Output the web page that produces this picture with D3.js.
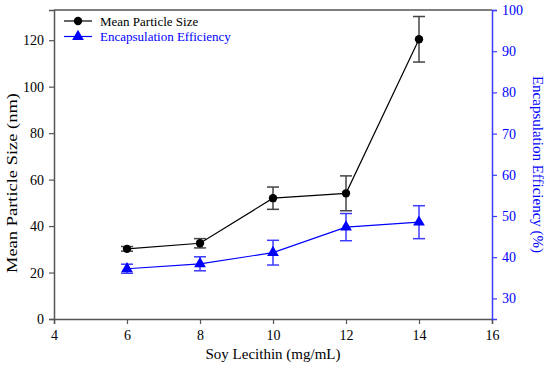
<!DOCTYPE html>
<html>
<head>
<meta charset="utf-8">
<script src="https://cdn.jsdelivr.net/npm/d3@7"></script>
<style>
  body { margin: 0; background: #fff; }
  svg, svg text { font-family: "Liberation Serif", "Times New Roman", serif; }
</style>
</head>
<body>
<svg id="chart" width="550" height="371"></svg>
<script>
var lecithin = [6, 8, 10, 12, 14];
var particleSize = [30.2, 32.6, 52.0, 54.1, 120.4];
var particleErr = [1.0, 2.0, 4.8, 7.5, 9.8];
var efficiency = [37.2, 38.4, 41.1, 47.3, 48.5];
var efficiencyErr = [1.1, 1.7, 3.0, 3.3, 4.0];
var xTicks = [4, 6, 8, 10, 12, 14, 16];
var leftTicks = [0, 20, 40, 60, 80, 100, 120];
var rightTicks = [30, 40, 50, 60, 70, 80, 90, 100];

var margin = {left: 54, right: 58, top: 10, bottom: 52};
var svg = d3.select('#chart');
var width = +svg.attr('width'), height = +svg.attr('height');
var x0 = margin.left, x1 = width - margin.right;
var y0 = height - margin.bottom, y1 = margin.top;

var x = d3.scaleLinear().domain([4, 16]).range([x0, x1]);
var yL = d3.scaleLinear().domain([0, 133]).range([y0, y1]);
var yR = d3.scaleLinear().domain([25, 100]).range([y0, y1]);

var blue = '#0000ff';
var axisBlue = '#3c3cff';

// top border
svg.append('line')
    .attr('x1', x0).attr('x2', x1).attr('y1', y1).attr('y2', y1)
    .attr('stroke', '#555').attr('stroke-width', 1.5);

function styleAxis(g, color, textColor) {
    g.attr('font-family', null).attr('font-size', null);
    g.selectAll('path').attr('stroke', color).attr('stroke-width', 1.5);
    g.selectAll('line').attr('stroke', color).attr('stroke-width', 1.2);
    g.selectAll('text')
        .attr('fill', textColor)
        .style('font-size', '14px');
}

var gx = svg.append('g')
    .attr('transform', `translate(0, ${y0})`)
    .call(d3.axisBottom(x).tickValues(xTicks).tickSize(5).tickPadding(6));
styleAxis(gx, '#555', '#000');

var gl = svg.append('g')
    .attr('transform', `translate(${x0}, 0)`)
    .call(d3.axisLeft(yL).tickValues(leftTicks).tickSize(5).tickPadding(5));
styleAxis(gl, '#555', '#000');

var gr = svg.append('g')
    .attr('transform', `translate(${x1}, 0)`)
    .call(d3.axisRight(yR).tickValues(rightTicks).tickSize(5).tickPadding(5));
styleAxis(gr, axisBlue, blue);

// axis titles
svg.append('text')
    .attr('x', (x0 + x1) / 2).attr('y', 359)
    .attr('text-anchor', 'middle')
    .style('font-size', '15px')
    .text('Soy Lecithin (mg/mL)');

svg.append('text')
    .attr('transform', 'translate(17, 183) rotate(-90)')
    .attr('text-anchor', 'middle')
    .attr('textLength', 180)
    .attr('lengthAdjust', 'spacingAndGlyphs')
    .style('font-size', '15px')
    .text('Mean Particle Size (nm)');

svg.append('text')
    .attr('transform', `translate(533, ${(y0 + y1) / 2}) rotate(90)`)
    .attr('text-anchor', 'middle')
    .attr('fill', blue)
    .style('font-size', '15px')
    .text('Encapsulation Efficiency (%)');

function drawSeries(vals, errs, yScale, lineColor, errColor, marker) {
    var data = lecithin.map((d, i) => ({x: d, y: vals[i], e: errs[i]}));
    var g = svg.append('g');
    var cap = 6;
    var eb = g.selectAll('.err').data(data).enter().append('g');
    eb.append('line')
        .attr('x1', d => x(d.x)).attr('x2', d => x(d.x))
        .attr('y1', d => yScale(d.y - d.e)).attr('y2', d => yScale(d.y + d.e))
        .attr('stroke', errColor).attr('stroke-width', 1.5);
    [-1, 1].forEach(s => {
        eb.append('line')
            .attr('x1', d => x(d.x) - cap).attr('x2', d => x(d.x) + cap)
            .attr('y1', d => yScale(d.y + s * d.e)).attr('y2', d => yScale(d.y + s * d.e))
            .attr('stroke', errColor).attr('stroke-width', 1.5);
    });
    g.append('path')
        .datum(data)
        .attr('fill', 'none')
        .attr('stroke', lineColor)
        .attr('stroke-width', 1.2)
        .attr('d', d3.line().x(d => x(d.x)).y(d => yScale(d.y)));
    g.selectAll('.mk').data(data).enter().append('path')
        .attr('transform', d => `translate(${x(d.x)}, ${yScale(d.y)})`)
        .attr('fill', lineColor)
        .attr('d', d3.symbol().type(marker).size(marker === d3.symbolCircle ? 55 : 60));
}

drawSeries(particleSize, particleErr, yL, '#000', '#444', d3.symbolCircle);
drawSeries(efficiency, efficiencyErr, yR, blue, axisBlue, d3.symbolTriangle);

// legend
var legend = [
    {label: 'Mean Particle Size', color: '#000', marker: d3.symbolCircle, size: 55},
    {label: 'Encapsulation Efficiency', color: blue, marker: d3.symbolTriangle, size: 60}
];
var lg = svg.append('g').attr('transform', 'translate(64, 21)');
legend.forEach((d, i) => {
    var row = lg.append('g').attr('transform', `translate(0, ${i * 15.5})`);
    row.append('line').attr('x1', 0).attr('x2', 28).attr('y1', 0).attr('y2', 0)
        .attr('stroke', d.color).attr('stroke-width', 1.2);
    row.append('path').attr('transform', 'translate(14, 0)')
        .attr('fill', d.color)
        .attr('d', d3.symbol().type(d.marker).size(d.size));
    row.append('text').attr('x', 36).attr('y', 4.5)
        .attr('fill', d.color)
        .style('font-size', '13px')
        .text(d.label);
});
</script>
</body>
</html>
